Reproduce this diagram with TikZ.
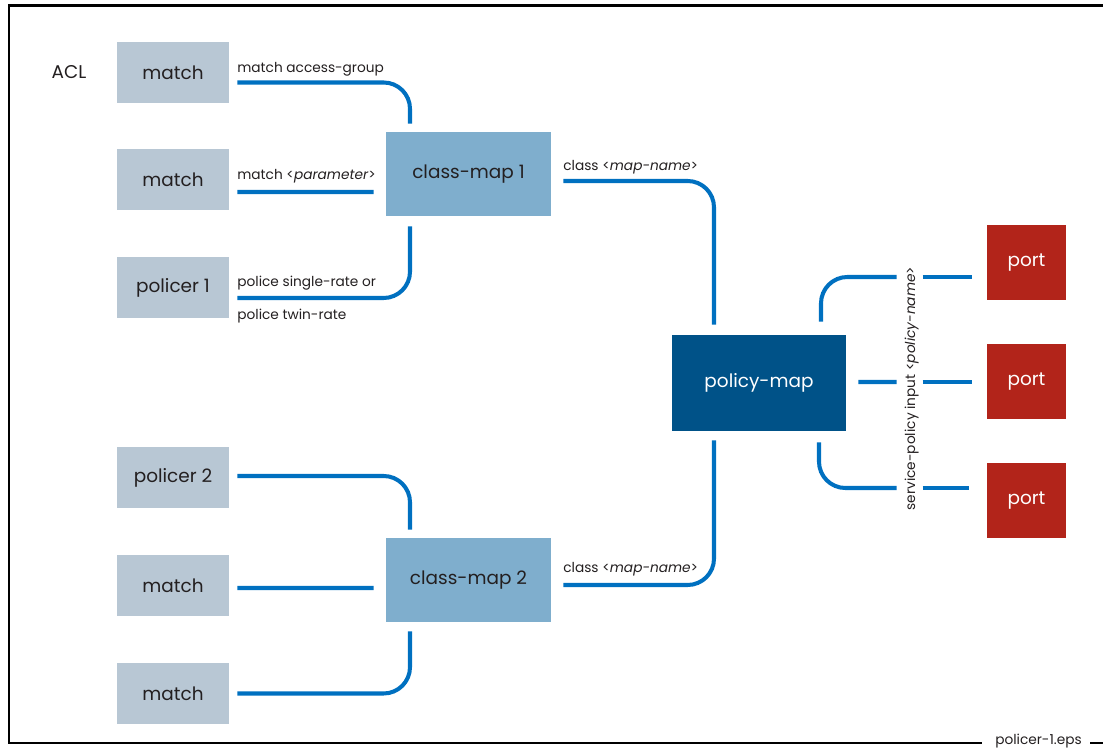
\documentclass[tikz,border=0pt]{standalone}
\usepackage{fontspec}
\setmainfont{Poppins}
\definecolor{pm_match}{RGB}{184, 199, 212}
\definecolor{pm_class}{RGB}{127, 174, 205}
\definecolor{pm_policy}{RGB}{0, 82, 136}
\definecolor{pm_port}{RGB}{178, 36, 26}
\definecolor{pm_line}{RGB}{0, 112, 192}
\definecolor{pm_text}{RGB}{35, 31, 32}
\usetikzlibrary{calc}

\begin{document}
\begin{tikzpicture}[
      x=0.02cm, y=-0.02cm,
      inbox/.style={rectangle, fill=pm_match, text=pm_text, inner sep=0pt,
                    minimum width=2.24cm, minimum height=1.22cm,
                    font=\fontsize{10.5}{12}\selectfont},
      classbox/.style={rectangle, fill=pm_class, text=pm_text, inner sep=0pt,
                       minimum width=3.3cm, minimum height=1.68cm,
                       font=\fontsize{10.5}{12}\selectfont},
      policybox/.style={rectangle, fill=pm_policy, text=white, inner sep=0pt,
                        minimum width=3.48cm, minimum height=1.92cm,
                        font=\fontsize{10.5}{12}\selectfont},
      portbox/.style={rectangle, fill=pm_port, text=white, inner sep=0pt,
                      minimum width=1.58cm, minimum height=1.5cm,
                      font=\fontsize{10.5}{12}\selectfont},
      lbl/.style={text=pm_text, inner sep=0pt, anchor=base west,
                  font=\fontsize{7.8}{9}\selectfont},
      link/.style={pm_line, line width=2.3pt, rounded corners=15pt},
      frame/.style={black, line width=1.7pt},
    ]
      \useasboundingbox (0,0) rectangle (1103,749);

      \draw[frame] (1103,6) -- (9,6) -- (9,743) -- (982,743);
      \draw[frame] (1090,743) -- (1103,743);
      \node[lbl, anchor=base] (foot) at (1038.5,745) {policer-1.eps};

      \node[text=pm_text, font=\fontsize{10.5}{12}\selectfont] (acl) at (69,72) {ACL};

      \node[inbox] (m1) at (173,72.5)  {match};
      \node[inbox] (m2) at (173,179.5) {match};
      \node[inbox] (p1) at (173,287.5) {policer 1};
      \node[inbox] (p2) at (173,477.5) {policer 2};
      \node[inbox] (m3) at (173,585.5) {match};
      \node[inbox] (m4) at (173,693.5) {match};

      \node[classbox]  (c1) at (468.5,174) {class-map 1};
      \node[classbox]  (c2) at (468.5,580) {class-map 2};
      \node[policybox] (pm) at (759,383)   {policy-map};

      \node[portbox] (port1) at (1026.5,262.5) {port};
      \node[portbox] (port2) at (1026.5,381.5) {port};
      \node[portbox] (port3) at (1026.5,500.5) {port};

      \draw[link] ($(m1.east)+(8,10)$) -| ($(c1.north)+(-58.5,-8)$);
      \draw[link] ($(m2.east)+(8,12.5)$) -- ($(c1.west)+(-12,18)$);
      \draw[link] ($(p1.east)+(8,10.5)$) -| ($(c1.south)+(-58.5,10)$);
      \draw[link] ($(c1.east)+(12,7)$) -| ($(pm.north)+(-45,-10)$);

      \draw[link] ($(p2.east)+(8,-1.5)$) -| ($(c2.north)+(-58.5,-8)$);
      \draw[link] ($(m3.east)+(8,2.5)$) -- ($(c2.west)+(-12,8)$);
      \draw[link] ($(m4.east)+(8,0)$) -| ($(c2.south)+(-58.5,9)$);
      \draw[link] ($(c2.east)+(12,5)$) -| ($(pm.south)+(-45,9)$);

      \draw[link] ($(pm.north)+(62,-13)$) |- ($(port1.west)+(-90,14.5)$);
      \draw[link] ($(port1.west)+(-64,14.5)$) -- ($(port1.west)+(-15,14.5)$);
      \draw[link] ($(pm.east)+(12,-1)$) -- ($(port2.west)+(-90,0.5)$);
      \draw[link] ($(port2.west)+(-64,0.5)$) -- ($(port2.west)+(-15,0.5)$);
      \draw[link] ($(pm.south)+(60,11)$) |- ($(port3.west)+(-90,-12.5)$);
      \draw[link] ($(port3.west)+(-64,-12.5)$) -- ($(port3.west)+(-18,-12.5)$);

      \node[lbl] (l1) at (237,73)    {match access-group};
      \node[lbl] (l2) at (237,180)   {match <\textit{parameter}>};
      \node[lbl] (l3) at (237,287)   {police single-rate or};
      \node[lbl] (l4) at (237,320)   {police twin-rate};
      \node[lbl] (l5) at (563,170.5) {class <\textit{map-name}>};
      \node[lbl] (l6) at (563,572.5) {class <\textit{map-name}>};
      \node[lbl, anchor=base, rotate=90] (l7) at (915,388.5)
            {service-policy input <\textit{policy-name}>};
    \end{tikzpicture}
\end{document}
